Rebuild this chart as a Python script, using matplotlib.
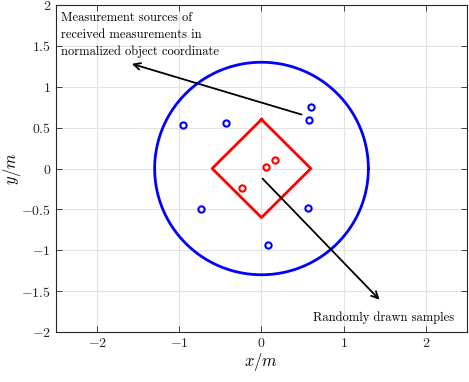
import numpy as np
import matplotlib
matplotlib.use("Agg")
import matplotlib.pyplot as plt

plt.rcParams['font.family'] = 'serif'
plt.rcParams['font.serif'] = ['cmr10', 'DejaVu Serif']
plt.rcParams['mathtext.fontset'] = 'cm'
plt.rcParams['axes.formatter.use_mathtext'] = True

# measurement sources (blue) and drawn samples (red)
src_x = [-0.96, -0.43, 0.60, 0.58, -0.73, 0.56, 0.08]
src_y = [0.53, 0.56, 0.75, 0.59, -0.50, -0.48, -0.93]
smp_x = [0.05, 0.16, -0.24]
smp_y = [0.02, 0.10, -0.24]

circle_r = 1.3
diamond_x = [0, 0.6, 0, -0.6, 0]
diamond_y = [0.6, 0, -0.6, 0, 0.6]

fig = plt.figure(figsize=(4.69, 3.82), dpi=100)
ax = fig.add_axes([0.1194, 0.1309, 0.8763, 0.856])

t = np.linspace(0, 2 * np.pi, 400)
ax.plot(circle_r * np.cos(t), circle_r * np.sin(t), color='#0000ff', lw=2.0)
ax.plot(diamond_x, diamond_y, color='#ff0000', lw=2.0)
ax.plot(src_x, src_y, 'o', mfc='none', mec='#0000ff', ms=4.5, mew=1.5)
ax.plot(smp_x, smp_y, 'o', mfc='none', mec='#ff0000', ms=4.5, mew=1.5)

ax.annotate('', xy=(-1.61, 1.29), xytext=(0.52, 0.65),
            arrowprops=dict(arrowstyle='->', color='k', lw=1.3, mutation_scale=12))
ax.annotate('', xy=(1.46, -1.63), xytext=(-0.01, -0.10),
            arrowprops=dict(arrowstyle='->', color='k', lw=1.3, mutation_scale=12))

ax.text(-2.44, 1.91, 'Measurement sources of\nreceived measurements in\nnormalized object coordinate',
        fontsize=9, va='top', ha='left', linespacing=1.45)
ax.text(1.48, -1.83, 'Randomly drawn samples', fontsize=9, va='center', ha='center')

ax.set_xlim(-2.5, 2.5)
ax.set_ylim(-2, 2)
ax.set_xticks([-2, -1, 0, 1, 2])
ax.set_yticks(np.arange(-2, 2.01, 0.5))
ax.set_yticklabels(['$-2$', '$-1.5$', '$-1$', '$-0.5$', '$0$', '$0.5$', '$1$', '$1.5$', '$2$'])
ax.set_xticklabels(['$-2$', '$-1$', '$0$', '$1$', '$2$'])
ax.tick_params(direction='in', labelsize=10, length=4, width=0.6, top=True, right=True, colors='#262626')
ax.grid(True, color='#e3e3e3', lw=0.8)
ax.set_axisbelow(True)
for s in ax.spines.values():
    s.set_linewidth(0.8)
    s.set_color('#262626')

ax.set_xlabel('$x/m$', fontsize=12, labelpad=1)
ax.set_ylabel('$y/m$', fontsize=12, labelpad=-1)

fig.savefig('out.png', dpi=100)
